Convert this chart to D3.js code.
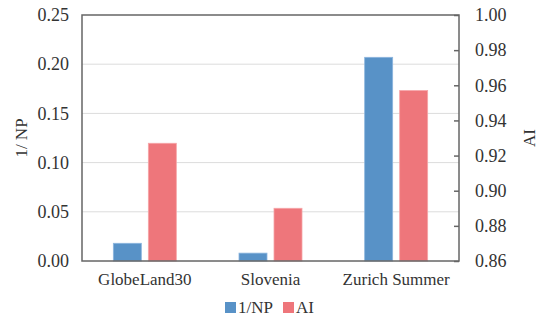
<!DOCTYPE html>
<html><head><meta charset="utf-8">
<script src="https://cdn.jsdelivr.net/npm/d3@7"></script>
<style>body{margin:0;background:#fff}svg{display:block}</style>
</head><body><svg id="c" width="543" height="320"></svg>
<script>
const categories = ["GlobeLand30", "Slovenia", "Zurich Summer"];
const npValues = [0.018, 0.008, 0.207];
const aiValues = [0.927, 0.890, 0.957];
const leftTicks = [0.00, 0.05, 0.10, 0.15, 0.20, 0.25];
const rightTicks = [0.86, 0.88, 0.90, 0.92, 0.94, 0.96, 0.98, 1.00];
const seriesNames = ["1/NP", "AI"];

const FONT = "'Liberation Serif', 'Times New Roman', serif";
const W = 543, H = 320;
const m = {l: 82, r: 84, t: 15, b: 59};
const svg = d3.select("#c");
const x = d3.scaleBand().domain(categories).range([m.l, W - m.r]).paddingInner(0).paddingOuter(0);
const yL = d3.scaleLinear().domain([0, 0.25]).range([H - m.b, m.t]);
const yR = d3.scaleLinear().domain([0.86, 1.00]).range([H - m.b, m.t]);
const barW = 28, gap = 7;
const colors = ["#5892c7", "#ee767b"];
const strokes = ["#8cb5de", "#f6a5a8"];

function styleText(sel, size) {
  sel.style("font-family", FONT).style("font-size", size + "px").style("fill", "#333");
}

// gridlines
svg.append("g").selectAll("line").data(leftTicks.slice(1, -1)).join("line")
  .attr("x1", m.l).attr("x2", W - m.r).attr("y1", d => yL(d)).attr("y2", d => yL(d))
  .attr("stroke", "#dcdcdc").attr("stroke-width", 1);

// bars
const g = svg.append("g");
categories.forEach((c, i) => {
  const cx = x(c) + x.bandwidth() / 2;
  g.append("rect").attr("x", cx - gap / 2 - barW).attr("width", barW)
    .attr("y", yL(npValues[i])).attr("height", yL(0) - yL(npValues[i]))
    .attr("fill", colors[0]).attr("stroke", strokes[0]).attr("stroke-width", 0.8);
  g.append("rect").attr("x", cx + gap / 2).attr("width", barW)
    .attr("y", yR(aiValues[i])).attr("height", yR(0.86) - yR(aiValues[i]))
    .attr("fill", colors[1]).attr("stroke", strokes[1]).attr("stroke-width", 0.8);
});

// axes
const fmt = d3.format(".2f");
const la = svg.append("g").attr("transform", `translate(${m.l},0)`)
  .call(d3.axisLeft(yL).tickValues(leftTicks).tickFormat(fmt).tickSize(0).tickPadding(13));
la.select(".domain").remove();
styleText(la.selectAll("text"), 18);

const ra = svg.append("g").attr("transform", `translate(${W - m.r},0)`)
  .call(d3.axisRight(yR).tickValues(rightTicks).tickFormat(fmt).tickSize(-5).tickPadding(16));
ra.select(".domain").remove();
ra.selectAll("line").attr("stroke", "#666").attr("stroke-width", 1.5);
styleText(ra.selectAll("text"), 18);

const xa = svg.append("g").attr("transform", `translate(0,${H - m.b})`)
  .call(d3.axisBottom(x).tickSize(0).tickPadding(12));
xa.select(".domain").remove();
styleText(xa.selectAll("text"), 17);

// frame
svg.append("rect").attr("x", m.l).attr("y", m.t).attr("width", W - m.r - m.l).attr("height", H - m.b - m.t)
  .attr("fill", "none").attr("stroke", "#666").attr("stroke-width", 1.5);

// axis titles
styleText(svg.append("text").attr("transform", `translate(27,${(m.t + H - m.b) / 2}) rotate(-90)`)
  .attr("text-anchor", "middle").text("1/ NP"), 17);
styleText(svg.append("text").attr("transform", `translate(535,${(m.t + H - m.b) / 2}) rotate(-90)`)
  .attr("text-anchor", "middle").text("AI"), 17);

// legend
const lg = svg.append("g");
const lx = [225, 283];
seriesNames.forEach((s, i) => {
  lg.append("rect").attr("x", lx[i]).attr("y", 302).attr("width", 11).attr("height", 11).attr("fill", colors[i]);
  styleText(lg.append("text").attr("x", lx[i] + 13).attr("y", 313).text(s), 17);
});
</script></body></html>
